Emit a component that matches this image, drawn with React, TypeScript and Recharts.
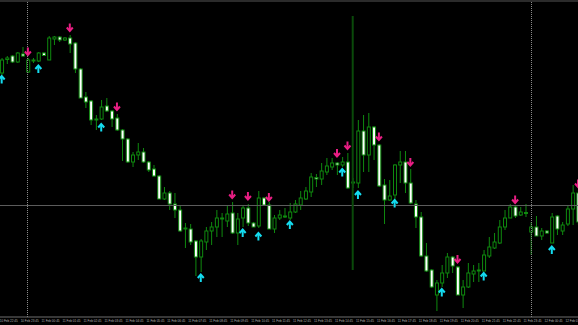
import { ComposedChart, Bar, Scatter, XAxis, YAxis, ReferenceLine } from 'recharts';

// M15 bars, index 0 = 10 Feb 22:45
const OPEN = [
  247, 260.5, 264, 258, 266, 248, 259, 259, 267, 260, 281, 283, 280, 282, 277, 251, 223, 219, 200.5, 201,
  214, 209, 202, 190, 181, 158, 165, 168, 158, 151, 144, 121, 127, 116, 110, 92, 91, 79, 63, 78,
  89, 93, 101, 99, 107, 87, 102, 112, 97, 94, 122, 115, 91, 102, 103.5, 102, 108, 115, 121, 128,
  142.5, 141, 148, 153, 157, 155, 158, 137, 137, 189, 165, 193, 175, 135, 120, 125, 155, 158, 137, 116,
  103, 64, 50, 25, 37, 47, 63, 53, 25, 33, 46, 49.5, 49, 64, 72, 77, 93, 102, 113, 105,
  107, 88, 93, 84, 89, 77, 104, 89, 96, 111, 127,
];
const HIGH = [
  262, 264, 265, 268, 273, 262, 262, 268, 268, 284, 284, 284, 283, 285, 278, 252, 228, 220, 205, 220,
  222, 210, 206, 191, 182, 168, 177, 172, 159, 155, 145, 133, 129, 127, 115, 97, 96, 80, 81, 93,
  98, 110, 107, 115, 118, 107, 115, 116, 98, 129, 123, 118, 105, 110, 112, 117, 120, 129, 133, 147,
  146, 157, 162, 162, 158, 163, 167, 142, 200, 205, 207, 194, 176, 141, 140, 156, 169, 169, 151, 120,
  108, 77, 51, 40, 55, 67, 64, 54, 40, 57, 55, 57, 70, 83, 87, 100, 110, 116, 114, 113,
  116, 98, 104, 92, 90, 107, 105, 98, 114, 135, 130,
];
const LOW = [
  245, 256, 257, 257, 263, 247, 257, 258, 264, 260, 275, 278, 279, 267, 247, 222, 212, 195, 190, 200,
  208, 193, 189, 159, 157, 153, 160, 157, 148, 143, 121, 120, 110, 102, 88, 72, 75, 44, 48, 70,
  75, 83, 83, 93, 86, 75, 93, 94, 93, 92, 114, 91, 87, 100, 102, 100, 107, 110, 120, 123,
  133, 135, 145, 150, 145, 153, 131, 132, 132, 148, 148, 160, 133, 96, 119, 120, 137, 127, 116, 92,
  63, 48, 32, 9, 33, 42, 47, 25, 12, 32, 38, 38, 49, 62, 71, 76, 90, 102, 102, 104,
  103, 65, 84, 80, 86, 77, 85, 85, 94, 95, 95,
];
const CLOSE = [
  260, 262, 258, 267, 264, 260, 260, 267, 264.5, 282, 283, 280, 282, 276, 251, 222, 218, 200, 201, 213,
  209, 201, 190, 181, 158, 165, 168, 158, 150, 144, 121, 127, 116, 110, 89, 91.5, 78, 63, 79, 89,
  93, 102, 102, 106, 87, 101, 112, 97, 93, 122, 115, 91, 102, 105, 104, 108, 116, 122, 129, 143,
  141, 149, 154, 157, 155, 158, 132, 138, 189, 165, 193, 175, 134, 120, 124, 155, 158, 137, 117, 103,
  64, 49, 33, 37, 47, 63, 54, 25, 33, 47, 49, 50, 65, 73, 78, 93, 102, 113, 104, 108,
  107.5, 93, 84, 89, 87, 103, 91, 95, 111, 127, 98,
];

// indicator arrows: [bar index, price]
const SELL_ARROWS = [
  [5, 268.5], [13, 292.5], [22, 213.5], [44, 125.5], [47, 124], [51, 123], [64, 167],
  [66, 174.5], [72, 183.5], [78, 158], [87, 61], [98, 120.5], [110, 136.5],
];
const BUY_ARROWS = [
  [0, 240.5], [7, 251], [19, 192.5], [38, 42], [46, 87], [49, 83.5], [55, 95],
  [65, 147.5], [68, 125], [75, 116.5], [84, 27.5], [92, 43.5], [105, 70],
];

const TIME_LABELS = [
  '10 Feb 22:45', '10 Feb 23:45', '11 Feb 00:45', '11 Feb 01:45', '11 Feb 02:45', '11 Feb 03:45',
  '11 Feb 04:45', '11 Feb 05:45', '11 Feb 06:45', '11 Feb 07:45', '11 Feb 08:45', '11 Feb 09:45',
  '11 Feb 10:45', '11 Feb 11:45', '11 Feb 12:45', '11 Feb 13:45', '11 Feb 14:45', '11 Feb 15:45',
  '11 Feb 16:45', '11 Feb 17:45', '11 Feb 18:45', '11 Feb 19:45', '11 Feb 20:45', '11 Feb 21:45',
  '11 Feb 22:45', '11 Feb 23:45', '12 Feb 00:45', '12 Feb 01:45',
];
const BARS_PER_LABEL = 4;

// day separators sit between bars
const DAY_SEPARATORS = [4.93, 101.13];
const H_LINE = 114.5;
const V_LINE = { i: 67, top: 304, bottom: 50 };

const GREEN = '#0f8a0f';

const data = OPEN.map((o, i) => ({
  i,
  o,
  h: HIGH[i],
  l: LOW[i],
  c: CLOSE[i],
  range: [LOW[i], HIGH[i]],
}));
const sells = SELL_ARROWS.map(([i, v]) => ({ i, v }));
const buys = BUY_ARROWS.map(([i, v]) => ({ i, v }));
const ticks = TIME_LABELS.map((_, k) => k * BARS_PER_LABEL);

function Candle(props: any) {
  const { x, y, width, height, payload } = props;
  if (!payload) return null;
  const { o, h, l, c } = payload;
  const ppu = h === l ? 0 : height / (h - l);
  const yOf = (v: number) => y + (h - v) * ppu;
  const cx = x + width / 2;
  const top = yOf(Math.max(o, c));
  const bodyH = Math.max(yOf(Math.min(o, c)) - top, 1);
  const bull = c >= o;
  return (
    <g>
      <line x1={cx} x2={cx} y1={y} y2={y + height} stroke={GREEN} strokeWidth={1} />
      <rect
        x={cx - 1.5}
        y={top}
        width={3}
        height={bodyH}
        fill={bull ? '#000' : '#fff'}
        stroke={GREEN}
        strokeWidth={1}
      />
    </g>
  );
}

function DownArrow(props: any) {
  const { cx, cy } = props;
  return (
    <g stroke="#e91e84" strokeWidth={2} fill="none">
      <path d={`M${cx},${cy - 4} L${cx},${cy + 3}`} />
      <path d={`M${cx - 3},${cy} L${cx},${cy + 3.5} L${cx + 3},${cy}`} />
    </g>
  );
}

function UpArrow(props: any) {
  const { cx, cy } = props;
  return (
    <g stroke="#14dcf0" strokeWidth={2} fill="none">
      <path d={`M${cx},${cy + 4} L${cx},${cy - 3}`} />
      <path d={`M${cx - 3},${cy} L${cx},${cy - 3.5} L${cx + 3},${cy}`} />
    </g>
  );
}

function TimeTick(props: any) {
  const { x, y, payload } = props;
  const label = TIME_LABELS[payload.value / BARS_PER_LABEL];
  return (
    <text
      x={x - 2}
      y={y + 5.2}
      fontSize={3.1}
      fontFamily="Liberation Sans Narrow, Liberation Sans, sans-serif"
      fill="#b4b4b4"
      textAnchor="start"
      textLength={18}
      lengthAdjust="spacingAndGlyphs"
    >
      {label}
    </text>
  );
}

export default function App() {
  return (
    <div style={{ position: 'fixed', left: 0, top: 0, width: 578, height: 325, background: '#000' }}>
      <ComposedChart width={578} height={325} data={data} margin={{ top: 0, right: 0, bottom: 0, left: 0 }}>
        <XAxis
          dataKey="i"
          type="number"
          domain={[-0.32, 110]}
          allowDataOverflow
          ticks={ticks}
          interval={0}
          height={8}
          tickSize={0}
          tickMargin={0}
          tickLine={false}
          axisLine={{ stroke: '#6e6e6e' }}
          tick={<TimeTick />}
        />
        <YAxis type="number" domain={[3, 320]} allowDataOverflow hide />
        {DAY_SEPARATORS.map((d) => (
          <ReferenceLine key={d} x={d} stroke="#8c8c8c" strokeDasharray="1 1" />
        ))}
        <ReferenceLine y={H_LINE} stroke="#5c5c5c" />
        <ReferenceLine
          segment={[
            { x: V_LINE.i, y: V_LINE.top },
            { x: V_LINE.i, y: V_LINE.bottom },
          ]}
          stroke="#0a4a0a"
          strokeWidth={2}
        />
        <Bar dataKey="range" barSize={4} shape={<Candle />} isAnimationActive={false} />
        <Scatter data={sells} dataKey="v" shape={<DownArrow />} isAnimationActive={false} />
        <Scatter data={buys} dataKey="v" shape={<UpArrow />} isAnimationActive={false} />
      </ComposedChart>
      <div style={{ position: 'absolute', left: 0, top: 0, width: 578, height: 2, background: '#2b2b2b' }} />
    </div>
  );
}
